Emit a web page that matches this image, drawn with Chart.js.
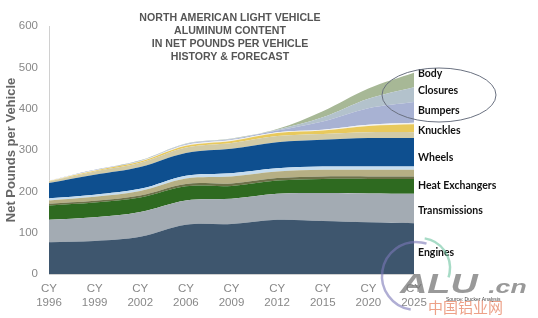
<!DOCTYPE html>
<html>
<head>
<meta charset="utf-8">
<script src="https://cdn.jsdelivr.net/npm/chart.js@4/dist/chart.umd.min.js"></script>
<style>
  html, body { margin: 0; padding: 0; background: #fff; }
  #wrap { width: 538px; height: 318px; }
</style>
</head>
<body>
<div id="wrap"><canvas id="c"></canvas></div>
<script>
// 年份
const years = [['CY', '1996'], ['CY', '1999'], ['CY', '2002'], ['CY', '2006'], ['CY', '2009'],
               ['CY', '2012'], ['CY', '2015'], ['CY', '2020'], ['CY', '2025']];

// 各部件铝含量 (lbs / vehicle)
const engines        = [77, 80, 90, 119, 121, 131, 128, 125, 123];
const transmissions  = [54, 57, 60, 59, 61, 63, 68, 70, 71];
const heatExchangers = [35, 36, 35, 34, 31, 32, 34, 35, 36];
const otherOlive     = [4, 4, 5, 6, 6, 6, 6, 6, 6];
const otherKhaki     = [8, 10, 11, 13, 17, 16, 16, 16, 16];
const otherLight     = [5, 5, 5, 7, 8, 8, 8, 8, 8];
const wheels         = [37, 48, 53, 55, 59, 63, 65, 69, 69];
const knucklesA      = [4, 8, 10, 13, 14, 15, 14, 14, 14];
const knucklesB      = [1, 2, 3, 4, 5, 7, 8, 15, 19];
const otherWhite     = [1, 1, 1, 2, 2, 2, 2, 3, 4];
const bumpers        = [0, 1, 1, 2, 2, 4, 20, 40, 50];
const closures       = [0, 0, 0, 1, 1, 2, 10, 23, 36];
const body           = [0, 0, 1, 1, 1, 2, 15, 25, 35];

const yTicks = [0, 100, 200, 300, 400, 500, 600];

const series = [
  { data: engines,        color: '#3e566e' },
  { data: transmissions,  color: '#a3abb3' },
  { data: heatExchangers, color: '#2e6a20' },
  { data: otherOlive,     color: '#6d7149' },
  { data: otherKhaki,     color: '#b6af84' },
  { data: otherLight,     color: '#c6ddef' },
  { data: wheels,         color: '#0e4f8f' },
  { data: knucklesA,      color: '#d2cba6' },
  { data: knucklesB,      color: '#e8c95c' },
  { data: otherWhite,     color: '#f3f3ef' },
  { data: bumpers,        color: '#a8b2d3' },
  { data: closures,       color: '#b3c2cc' },
  { data: body,           color: '#a7b896' }
];

// 右侧标签: 名称 + 对应的数据集序号
const sideLabels = [
  { text: 'Engines',         sets: [0], dy: 4 },
  { text: 'Transmissions',   sets: [1], dy: 2 },
  { text: 'Heat Exchangers', sets: [2, 3], dy: 0 },
  { text: 'Wheels',          sets: [6], dy: 5 },
  { text: 'Knuckles',        sets: [7, 8, 9], dy: 0 },
  { text: 'Bumpers',         sets: [10], dy: -2 },
  { text: 'Closures',        sets: [11], dy: -4 },
  { text: 'Body',            sets: [12], dy: -6 }
];

const titleLines = ['NORTH AMERICAN LIGHT VEHICLE', 'ALUMINUM CONTENT',
                    'IN NET POUNDS PER VEHICLE', 'HISTORY & FORECAST'];

const datasets = series.map((s, i) => ({
  data: s.data,
  backgroundColor: s.color,
  borderColor: s.color,
  borderWidth: 0,
  pointRadius: 0,
  tension: 0.35,
  fill: i === 0 ? 'origin' : '-1'
}));

// 画标题、右侧标签、椭圆、水印
const decorPlugin = {
  id: 'decor',
  afterDraw(chart) {
    const c = chart.ctx;
    const ys = chart.scales.y;
    const area = chart.chartArea;
    const last = years.length - 1;

    c.save();
    // title
    c.fillStyle = '#555';
    c.font = 'bold 10.6px "Liberation Sans", Arial, sans-serif';
    c.textAlign = 'center';
    c.textBaseline = 'middle';
    titleLines.forEach((t, i) => c.fillText(t, 230, 18 + i * 13));

    // side labels
    c.fillStyle = '#111';
    c.font = 'bold 10.5px Lato, sans-serif';
    c.textAlign = 'left';
    sideLabels.forEach(l => {
      let base = 0;
      for (let k = 0; k < l.sets[0]; k++) base += series[k].data[last];
      let h = 0;
      l.sets.forEach(k => h += series[k].data[last]);
      const y = ys.getPixelForValue(base + h / 2) + l.dy;
      c.fillText(l.text, area.right + 4, y);
    });

    // ellipse
    c.strokeStyle = '#6a7180';
    c.lineWidth = 1;
    c.beginPath();
    c.ellipse(439, 95, 57, 27, 0, 0, Math.PI * 2);
    c.stroke();

    // watermark
    c.globalAlpha = 0.6;
    c.strokeStyle = '#7b78b8';
    c.lineWidth = 2.5;
    c.beginPath();
    c.arc(416, 276, 34, Math.PI * 0.55, Math.PI * 1.6);
    c.stroke();
    c.strokeStyle = '#6cc3a0';
    c.beginPath();
    c.arc(420, 268, 30, Math.PI * 1.55, Math.PI * 2.1);
    c.stroke();
    c.globalAlpha = 0.75;
    c.fillStyle = '#777';
    c.save();
    c.translate(400, 286);
    c.scale(1.4, 1);
    c.font = 'italic bold 27px "Liberation Sans", sans-serif';
    c.fillText('ALU', 0, 0);
    c.font = 'italic bold 19px "Liberation Sans", sans-serif';
    c.fillText('.cn', 63, 2);
    c.restore();
    c.globalAlpha = 0.8;
    c.fillStyle = '#e8896a';
    c.font = '15px "Noto Sans CJK SC", sans-serif';
    c.fillText('中国铝业网', 428, 307);
    c.globalAlpha = 1;
    c.fillStyle = '#444';
    c.font = '5px "Liberation Sans", sans-serif';
    c.fillText('Source: Ducker Analysis', 446, 300);
    c.restore();
  }
};

new Chart(document.getElementById('c'), {
  type: 'line',
  data: { labels: years, datasets: datasets },
  plugins: [decorPlugin],
  options: {
    responsive: true,
    maintainAspectRatio: false,
    animation: false,
    layout: { padding: { top: 26, right: 124, left: 2, bottom: 0 } },
    plugins: {
      legend: { display: false },
      tooltip: { enabled: false }
    },
    scales: {
      x: {
        offset: false,
        grid: { display: false, drawTicks: true, tickLength: 4, color: '#ccc' },
        border: { color: '#d0d0d0' },
        ticks: {
          color: '#888',
          font: { size: 11.5, family: '"Liberation Sans", Arial, sans-serif' },
          maxRotation: 0,
          padding: 4
        },
        afterFit(s) { s.height = 44; }
      },
      y: {
        stacked: true,
        min: 0,
        max: 600,
        afterBuildTicks(s) { s.ticks = yTicks.map(v => ({ value: v })); },
        grid: { display: false, drawTicks: true, tickLength: 3 },
        border: { color: '#d0d0d0' },
        ticks: {
          color: '#888',
          font: { size: 11.5, family: '"Liberation Sans", Arial, sans-serif' },
          padding: 8
        },
        title: {
          display: true,
          text: 'Net Pounds per Vehicle',
          color: '#666',
          font: { size: 13, weight: 'bold', family: '"Liberation Sans", Arial, sans-serif' },
          padding: 2
        },
        afterFit(s) { s.width = 47; }
      }
    }
  }
});
</script>
</body>
</html>
